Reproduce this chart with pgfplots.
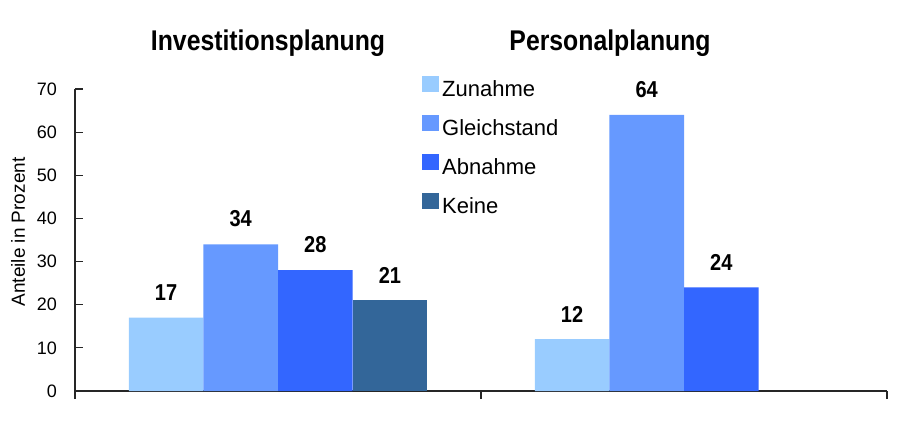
\documentclass[border=0pt]{standalone}
\usepackage{pgfplots}
\pgfplotsset{compat=1.18}
\usepackage{fontspec}
\setmainfont{Liberation Sans}
\newfontfamily\narrowfont{Liberation Sans}[FakeStretch=0.87]
\definecolor{cZu}{HTML}{99CCFF}
\definecolor{cGl}{HTML}{6699FF}
\definecolor{cAb}{HTML}{3366FF}
\definecolor{cKe}{HTML}{336699}
\pgfplotsset{mylegend/.style={legend image code/.code={\draw[##1,draw=none] (0pt,-3pt) rectangle (17pt,13pt);}}}
\begin{document}
\begin{tikzpicture}
\useasboundingbox (0pt,0pt) rectangle (917pt,436pt);
\begin{axis}[
  at={(75pt,45pt)}, anchor=south west,
  scale only axis, width=812pt, height=302pt,
  xmin=-0.5, xmax=1.5, ymin=0, ymax=70,
  axis x line=bottom, axis y line=left,
  axis line style={-, line width=1.1pt, black!85},
  xtick={-0.5,0.5,1.5}, xticklabels={},
  ytick={0,10,...,70},
  tick align=inside, major tick length=8pt,
  tick style={line width=1.1pt, black!85},
  /pgf/number format/assume math mode=true,
  yticklabel style={font=\fontsize{18}{20}\selectfont, inner sep=0pt, xshift=-18pt},
  ylabel={Anteile in Prozent},
  every axis y label/.style={at={(axis description cs:-0.0702,0.5265)}, rotate=90, anchor=center, font=\fontsize{19}{21}\selectfont},
  ybar=0pt, bar width=74.6pt,
  nodes near coords,
  every node near coord/.append style={font=\narrowfont\bfseries\fontsize{23}{25}\selectfont, anchor=south, inner sep=0pt, yshift=17pt},
  clip=false,
  legend cell align=left,
  legend style={at={(axis description cs:0.4273,1.043)}, anchor=north west, draw=none, fill=none,
    font=\fontsize{22}{26}\selectfont, row sep=17.2pt, column sep=3pt, inner sep=0pt,
    nodes={inner sep=0pt}},
]
\addplot[fill=cZu, draw=none, mylegend] coordinates {(0,17) (1,12)};
\addplot[fill=cGl, draw=none, mylegend] coordinates {(0,34) (1,64)};
\addplot[fill=cAb, draw=none, mylegend] coordinates {(0,28) (1,24)};
\addplot[fill=cKe, draw=none, mylegend] coordinates {(0,21)};
\legend{Zunahme,Gleichstand,Abnahme,Keine}
\node[font=\narrowfont\bfseries\fontsize{28.5}{30}\selectfont, anchor=base] at (rel axis cs:0.2377,1.129) {Investitionsplanung};
\node[font=\narrowfont\bfseries\fontsize{28.5}{30}\selectfont, anchor=base] at (rel axis cs:0.6589,1.129) {Personalplanung};
\end{axis}
\end{tikzpicture}
\end{document}
